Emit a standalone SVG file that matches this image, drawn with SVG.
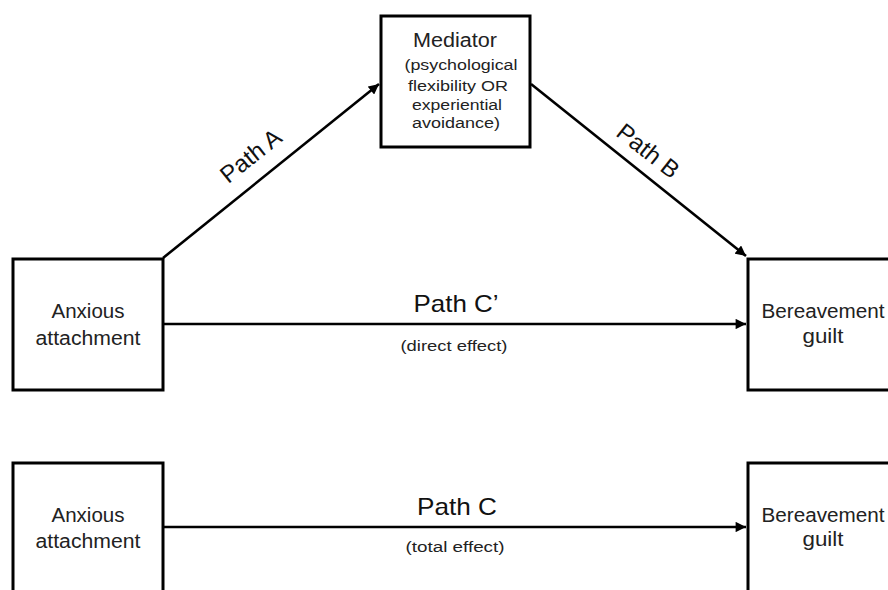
<svg xmlns="http://www.w3.org/2000/svg" width="888" height="590" viewBox="0 0 888 590">
<defs>
<marker id="arr" viewBox="0 0 10 10" refX="10" refY="5" markerWidth="4.2" markerHeight="4" orient="auto" markerUnits="strokeWidth">
<path d="M0,0 L10,5 L0,10 z" fill="#000"/>
</marker>
</defs>
<style>
.box{fill:#fff;stroke:#000;stroke-width:3}
.lbl{font-family:"Liberation Sans",Arial,sans-serif;fill:#222;text-anchor:middle}
.big{font-size:19.5px}
.small{font-size:15.5px}
.path{font-size:24px;fill:#111}
.conn{stroke:#000;stroke-width:2.6;fill:none;marker-end:url(#arr)}
</style>
<rect width="888" height="590" fill="#fff"/>
<g id="connectors">
<line class="conn" x1="163" y1="258" x2="379" y2="84"/>
<line class="conn" x1="531" y1="84" x2="746" y2="256"/>
<line class="conn" x1="163" y1="324" x2="746" y2="324"/>
<line class="conn" x1="163" y1="527" x2="746" y2="527"/>
<text class="lbl path" transform="translate(251,156) rotate(-38.6)" y="8">Path A</text>
<text class="lbl path" transform="translate(648,151) rotate(38.3)" y="8">Path B</text>
<text class="lbl path" x="456" y="312" textLength="85" lengthAdjust="spacingAndGlyphs">Path C’</text>
<text class="lbl small" x="454" y="351" textLength="107" lengthAdjust="spacingAndGlyphs">(direct effect)</text>
<text class="lbl path" x="457" y="515" textLength="80" lengthAdjust="spacingAndGlyphs">Path C</text>
<text class="lbl small" x="455" y="552" textLength="99" lengthAdjust="spacingAndGlyphs">(total effect)</text>
</g>
<g id="mediator">
<rect class="box" x="381" y="16" width="149" height="131"/>
<text class="lbl big" x="455" y="47" textLength="84" lengthAdjust="spacingAndGlyphs">Mediator</text>
<text class="lbl small" x="461" y="70" textLength="113" lengthAdjust="spacingAndGlyphs">(psychological</text>
<text class="lbl small" x="458" y="91" textLength="100" lengthAdjust="spacingAndGlyphs">flexibility OR</text>
<text class="lbl small" x="457" y="110" textLength="90" lengthAdjust="spacingAndGlyphs">experiential</text>
<text class="lbl small" x="456" y="128" textLength="88" lengthAdjust="spacingAndGlyphs">avoidance)</text>
</g>
<g id="anxious1">
<rect class="box" x="13" y="259" width="150" height="131"/>
<text class="lbl big" x="88" y="318" textLength="73" lengthAdjust="spacingAndGlyphs">Anxious</text>
<text class="lbl big" x="88" y="345" textLength="105" lengthAdjust="spacingAndGlyphs">attachment</text>
</g>
<g id="guilt1">
<rect class="box" x="748" y="259" width="150" height="131"/>
<text class="lbl big" x="823" y="318" textLength="123" lengthAdjust="spacingAndGlyphs">Bereavement</text>
<text class="lbl big" x="823" y="343" textLength="41" lengthAdjust="spacingAndGlyphs">guilt</text>
</g>
<g id="anxious2">
<rect class="box" x="13" y="463" width="150" height="140"/>
<text class="lbl big" x="88" y="522" textLength="73" lengthAdjust="spacingAndGlyphs">Anxious</text>
<text class="lbl big" x="88" y="548" textLength="105" lengthAdjust="spacingAndGlyphs">attachment</text>
</g>
<g id="guilt2">
<rect class="box" x="748" y="463" width="150" height="140"/>
<text class="lbl big" x="823" y="522" textLength="123" lengthAdjust="spacingAndGlyphs">Bereavement</text>
<text class="lbl big" x="823" y="546" textLength="41" lengthAdjust="spacingAndGlyphs">guilt</text>
</g>
</svg>
